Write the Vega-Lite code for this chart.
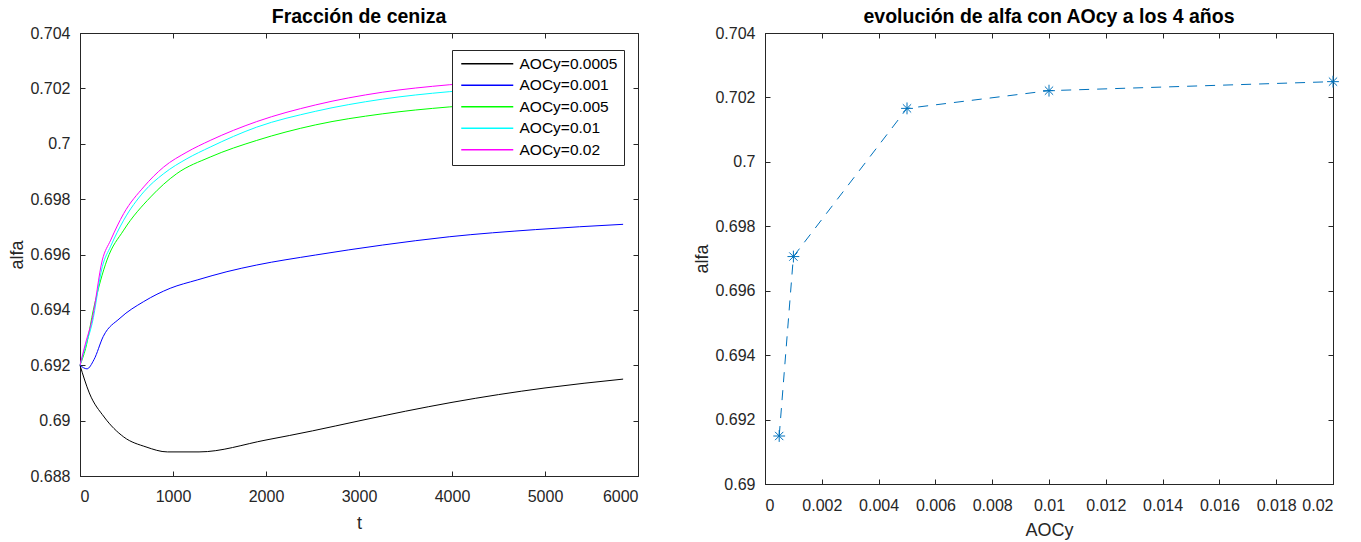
{
  "$schema": "https://vega.github.io/schema/vega-lite/v6.json",
  "background": "white",
  "padding": {"left": 8, "top": 6, "right": 5, "bottom": 2},
  "spacing": 54,
  "config": {
    "font": "Liberation Sans",
    "view": {"stroke": "#262626", "strokeWidth": 1},
    "axis": {
      "labelFont": "Liberation Sans", "labelFontSize": 16, "labelColor": "#262626",
      "titleFont": "Liberation Sans", "titleFontSize": 18, "titleFontWeight": "normal", "titleColor": "#262626",
      "grid": false, "domainColor": "#262626", "tickColor": "#262626", "tickSize": -5, "labelPadding": 15
    },
    "title": {"font": "Liberation Sans", "fontSize": 19.5, "fontWeight": "bold", "color": "#000000", "frame": "group", "anchor": "middle"}
  },
  "hconcat": [
    {
      "width": 558, "height": 443,
      "title": {"text": "Fracción de ceniza", "offset": -2},
      "data": {"values": [
        {"t": 0, "alfa": 0.6920, "serie": "AOCy=0.0005"},
        {"t": 100, "alfa": 0.6910, "serie": "AOCy=0.0005"},
        {"t": 260, "alfa": 0.69013, "serie": "AOCy=0.0005"},
        {"t": 470, "alfa": 0.68941, "serie": "AOCy=0.0005"},
        {"t": 710, "alfa": 0.68905, "serie": "AOCy=0.0005"},
        {"t": 940, "alfa": 0.68887, "serie": "AOCy=0.0005"},
        {"t": 1280, "alfa": 0.68887, "serie": "AOCy=0.0005"},
        {"t": 2000, "alfa": 0.6893, "serie": "AOCy=0.0005"},
        {"t": 2500, "alfa": 0.68963, "serie": "AOCy=0.0005"},
        {"t": 3000, "alfa": 0.68999, "serie": "AOCy=0.0005"},
        {"t": 3500, "alfa": 0.69034, "serie": "AOCy=0.0005"},
        {"t": 4000, "alfa": 0.69066, "serie": "AOCy=0.0005"},
        {"t": 4500, "alfa": 0.69094, "serie": "AOCy=0.0005"},
        {"t": 5000, "alfa": 0.69118, "serie": "AOCy=0.0005"},
        {"t": 5840, "alfa": 0.6915, "serie": "AOCy=0.0005"},

        {"t": 0, "alfa": 0.6920, "serie": "AOCy=0.001"},
        {"t": 75, "alfa": 0.69187, "serie": "AOCy=0.001"},
        {"t": 150, "alfa": 0.6922, "serie": "AOCy=0.001"},
        {"t": 250, "alfa": 0.69304, "serie": "AOCy=0.001"},
        {"t": 430, "alfa": 0.6937, "serie": "AOCy=0.001"},
        {"t": 685, "alfa": 0.6943, "serie": "AOCy=0.001"},
        {"t": 970, "alfa": 0.69478, "serie": "AOCy=0.001"},
        {"t": 1260, "alfa": 0.69508, "serie": "AOCy=0.001"},
        {"t": 1580, "alfa": 0.69538, "serie": "AOCy=0.001"},
        {"t": 1900, "alfa": 0.69562, "serie": "AOCy=0.001"},
        {"t": 2530, "alfa": 0.69598, "serie": "AOCy=0.001"},
        {"t": 3250, "alfa": 0.69634, "serie": "AOCy=0.001"},
        {"t": 3970, "alfa": 0.69664, "serie": "AOCy=0.001"},
        {"t": 4900, "alfa": 0.6969, "serie": "AOCy=0.001"},
        {"t": 5840, "alfa": 0.69709, "serie": "AOCy=0.001"},

        {"t": 0, "alfa": 0.6920, "serie": "AOCy=0.005"},
        {"t": 60, "alfa": 0.6926, "serie": "AOCy=0.005"},
        {"t": 150, "alfa": 0.6941, "serie": "AOCy=0.005"},
        {"t": 290, "alfa": 0.6958, "serie": "AOCy=0.005"},
        {"t": 470, "alfa": 0.69688, "serie": "AOCy=0.005"},
        {"t": 760, "alfa": 0.69808, "serie": "AOCy=0.005"},
        {"t": 1040, "alfa": 0.69892, "serie": "AOCy=0.005"},
        {"t": 1400, "alfa": 0.69952, "serie": "AOCy=0.005"},
        {"t": 1900, "alfa": 0.70012, "serie": "AOCy=0.005"},
        {"t": 2530, "alfa": 0.70068, "serie": "AOCy=0.005"},
        {"t": 3250, "alfa": 0.70108, "serie": "AOCy=0.005"},
        {"t": 3970, "alfa": 0.70133, "serie": "AOCy=0.005"},
        {"t": 4900, "alfa": 0.70153, "serie": "AOCy=0.005"},
        {"t": 5840, "alfa": 0.70168, "serie": "AOCy=0.005"},

        {"t": 0, "alfa": 0.6920, "serie": "AOCy=0.01"},
        {"t": 60, "alfa": 0.6927, "serie": "AOCy=0.01"},
        {"t": 130, "alfa": 0.6935, "serie": "AOCy=0.01"},
        {"t": 240, "alfa": 0.69556, "serie": "AOCy=0.01"},
        {"t": 330, "alfa": 0.6963, "serie": "AOCy=0.01"},
        {"t": 470, "alfa": 0.69724, "serie": "AOCy=0.01"},
        {"t": 685, "alfa": 0.69826, "serie": "AOCy=0.01"},
        {"t": 900, "alfa": 0.69892, "serie": "AOCy=0.01"},
        {"t": 1150, "alfa": 0.69946, "serie": "AOCy=0.01"},
        {"t": 1400, "alfa": 0.69988, "serie": "AOCy=0.01"},
        {"t": 1900, "alfa": 0.7006, "serie": "AOCy=0.01"},
        {"t": 2530, "alfa": 0.70117, "serie": "AOCy=0.01"},
        {"t": 3250, "alfa": 0.70161, "serie": "AOCy=0.01"},
        {"t": 3970, "alfa": 0.70188, "serie": "AOCy=0.01"},
        {"t": 4900, "alfa": 0.70207, "serie": "AOCy=0.01"},
        {"t": 5840, "alfa": 0.70222, "serie": "AOCy=0.01"},

        {"t": 0, "alfa": 0.6920, "serie": "AOCy=0.02"},
        {"t": 60, "alfa": 0.6928, "serie": "AOCy=0.02"},
        {"t": 130, "alfa": 0.69364, "serie": "AOCy=0.02"},
        {"t": 240, "alfa": 0.6958, "serie": "AOCy=0.02"},
        {"t": 330, "alfa": 0.69652, "serie": "AOCy=0.02"},
        {"t": 470, "alfa": 0.69748, "serie": "AOCy=0.02"},
        {"t": 685, "alfa": 0.69844, "serie": "AOCy=0.02"},
        {"t": 900, "alfa": 0.69916, "serie": "AOCy=0.02"},
        {"t": 1150, "alfa": 0.6997, "serie": "AOCy=0.02"},
        {"t": 1400, "alfa": 0.70012, "serie": "AOCy=0.02"},
        {"t": 1900, "alfa": 0.7008, "serie": "AOCy=0.02"},
        {"t": 2530, "alfa": 0.7014, "serie": "AOCy=0.02"},
        {"t": 3250, "alfa": 0.70186, "serie": "AOCy=0.02"},
        {"t": 3970, "alfa": 0.70213, "serie": "AOCy=0.02"},
        {"t": 4900, "alfa": 0.70233, "serie": "AOCy=0.02"},
        {"t": 5840, "alfa": 0.70248, "serie": "AOCy=0.02"}
      ]},
      "layer": [
        {
          "mark": {"type": "line", "strokeWidth": 1, "interpolate": "monotone"},
          "encoding": {
            "x": {"field": "t", "type": "quantitative", "scale": {"domain": [0, 6000], "nice": false, "zero": false},
                  "axis": {"values": [0, 1000, 2000, 3000, 4000, 5000, 6000], "format": "d", "title": "t", "titlePadding": 10, "labelPadding": 17}},
            "y": {"field": "alfa", "type": "quantitative", "scale": {"domain": [0.688, 0.704], "nice": false, "zero": false},
                  "axis": {"values": [0.688, 0.69, 0.692, 0.694, 0.696, 0.698, 0.7, 0.702, 0.704], "format": "~g", "title": "alfa", "titlePadding": 3}},
            "color": {"field": "serie", "type": "nominal",
              "scale": {"domain": ["AOCy=0.0005", "AOCy=0.001", "AOCy=0.005", "AOCy=0.01", "AOCy=0.02"],
                        "range": ["#000000", "#0000ff", "#00ff00", "#00ffff", "#ff00ff"]},
              "legend": {"title": null, "orient": "none", "legendX": 372, "legendY": 17, "fillColor": "white", "strokeColor": "#262626",
                         "padding": 6, "symbolOffset": 2, "symbolType": "M-1,0L7,0", "symbolSize": 169, "symbolStrokeWidth": 1.3,
                         "labelFont": "Liberation Sans", "labelFontSize": 15.5, "labelColor": "#000000", "rowPadding": 4.5, "labelOffset": 44}}
          }
        },
        {
          "mark": {"type": "point", "opacity": 0},
          "encoding": {
            "x": {"field": "t", "type": "quantitative", "axis": {"orient": "top", "values": [0, 1000, 2000, 3000, 4000, 5000, 6000], "labels": false, "title": null, "domain": false}},
            "y": {"field": "alfa", "type": "quantitative", "axis": {"orient": "right", "values": [0.688, 0.69, 0.692, 0.694, 0.696, 0.698, 0.7, 0.702, 0.704], "labels": false, "title": null, "domain": false}}
          }
        }
      ],
      "resolve": {"axis": {"x": "independent", "y": "independent"}}
    },
    {
      "width": 568, "height": 451,
      "title": {"text": "evolución de alfa con AOcy a los 4 años", "offset": -2},
      "data": {"values": [
        {"AOCy": 0.0005, "alfa": 0.69149},
        {"AOCy": 0.001, "alfa": 0.69706},
        {"AOCy": 0.005, "alfa": 0.70166},
        {"AOCy": 0.01, "alfa": 0.70221},
        {"AOCy": 0.02, "alfa": 0.70249}
      ]},
      "layer": [
        {
          "mark": {"type": "line", "stroke": "#0072BD", "strokeWidth": 1, "strokeDash": [10, 8]},
          "encoding": {
            "x": {"field": "AOCy", "type": "quantitative", "scale": {"domain": [0, 0.02], "nice": false, "zero": false},
                  "axis": {"values": [0, 0.002, 0.004, 0.006, 0.008, 0.01, 0.012, 0.014, 0.016, 0.018, 0.02], "format": "~g", "title": "AOCy", "titlePadding": 8, "labelPadding": 18}},
            "y": {"field": "alfa", "type": "quantitative", "scale": {"domain": [0.69, 0.704], "nice": false, "zero": false},
                  "axis": {"values": [0.69, 0.692, 0.694, 0.696, 0.698, 0.7, 0.702, 0.704], "format": "~g", "title": "alfa", "titlePadding": 3}}
          }
        },
        {
          "mark": {"type": "point", "shape": "M-1,0L1,0M0,-1L0,1M-0.7,-0.7L0.7,0.7M-0.7,0.7L0.7,-0.7", "filled": false, "stroke": "#0072BD", "strokeWidth": 1, "size": 140, "opacity": 1},
          "encoding": {
            "x": {"field": "AOCy", "type": "quantitative", "axis": null},
            "y": {"field": "alfa", "type": "quantitative", "axis": null}
          }
        },
        {
          "mark": {"type": "point", "opacity": 0},
          "encoding": {
            "x": {"field": "AOCy", "type": "quantitative", "axis": {"orient": "top", "values": [0, 0.002, 0.004, 0.006, 0.008, 0.01, 0.012, 0.014, 0.016, 0.018, 0.02], "labels": false, "title": null, "domain": false}},
            "y": {"field": "alfa", "type": "quantitative", "axis": {"orient": "right", "values": [0.69, 0.692, 0.694, 0.696, 0.698, 0.7, 0.702, 0.704], "labels": false, "title": null, "domain": false}}
          }
        }
      ],
      "resolve": {"axis": {"x": "independent", "y": "independent"}}
    }
  ]
}
